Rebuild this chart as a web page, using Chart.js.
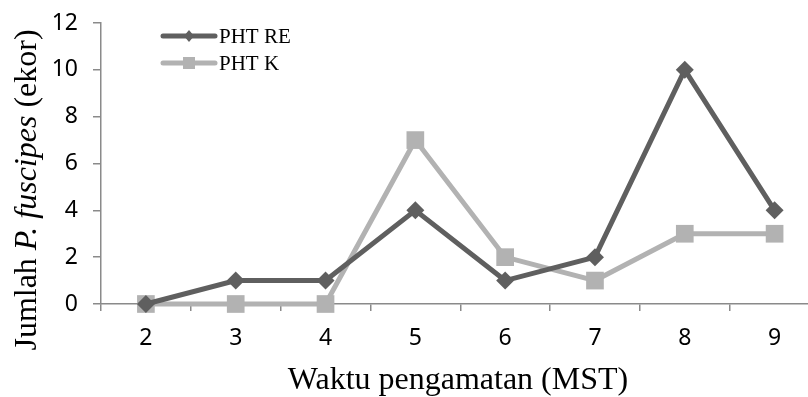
<!DOCTYPE html>
<html>
<head>
<meta charset="utf-8">
<script src="https://cdn.jsdelivr.net/npm/chart.js@4/dist/chart.umd.min.js"></script>
<style>
  html, body { margin: 0; padding: 0; background: #fff; overflow: hidden; }
  #wrap { width: 832px; height: 397px; }
</style>
</head>
<body>
<div id="wrap"><canvas id="chart" width="832" height="397"></canvas></div>
<script>
const categories = ["2", "3", "4", "5", "6", "7", "8", "9"];
const phtRE = [0, 1, 1, 4, 1, 2, 10, 4];
const phtK = [0, 0, 0, 7, 2, 1, 3, 3];
const yTicks = [0, 2, 4, 6, 8, 10, 12];

const darkGray = "#5f5f5f";
const lightGray = "#b2b2b2";
const axisGray = "#8a8a8a";
const tickFont = { family: "'Liberation Sans Narrow', 'Noto Sans'", size: 23 };

// draws the legend and both axis titles (the y title has an italic part)
const extras = {
  id: "extras",
  afterDraw(chart) {
    const ctx = chart.ctx;
    ctx.save();

    // legend
    const items = [
      { label: "PHT RE", color: darkGray, y: 36, marker: "diamond" },
      { label: "PHT K", color: lightGray, y: 63, marker: "square" },
    ];
    items.forEach((it) => {
      ctx.strokeStyle = it.color;
      ctx.lineWidth = 5;
      ctx.lineCap = "round";
      ctx.beginPath();
      ctx.moveTo(163, it.y);
      ctx.lineTo(215, it.y);
      ctx.stroke();
      ctx.fillStyle = it.color;
      if (it.marker === "diamond") {
        ctx.beginPath();
        ctx.moveTo(189, it.y - 6);
        ctx.lineTo(194, it.y);
        ctx.lineTo(189, it.y + 6);
        ctx.lineTo(184, it.y);
        ctx.closePath();
        ctx.fill();
      } else {
        ctx.fillRect(183, it.y - 6, 12, 12);
      }
      ctx.fillStyle = "#000";
      ctx.font = "21px 'Liberation Serif'";
      ctx.textBaseline = "alphabetic";
      ctx.textAlign = "left";
      ctx.fillText(it.label, 219, it.y + 7);
    });

    // x title
    ctx.fillStyle = "#000";
    ctx.font = "32px 'Liberation Serif'";
    ctx.textAlign = "center";
    ctx.fillText("Waktu pengamatan (MST)", 458, 389);

    // y title, rotated, with italic species name
    const parts = [
      { t: "Jumlah ", f: "32px 'Liberation Serif'" },
      { t: "P. fuscipes", f: "italic 32px 'Liberation Serif'" },
      { t: " (ekor)", f: "32px 'Liberation Serif'" },
    ];
    let total = 0;
    parts.forEach((p) => {
      ctx.font = p.f;
      p.w = ctx.measureText(p.t).width;
      total += p.w;
    });
    ctx.translate(36, 190);
    ctx.rotate(-Math.PI / 2);
    ctx.textAlign = "left";
    let x = -total / 2;
    parts.forEach((p) => {
      ctx.font = p.f;
      ctx.fillText(p.t, x, 0);
      x += p.w;
    });
    ctx.restore();
  },
};

new Chart(document.getElementById("chart"), {
  type: "line",
  data: {
    labels: categories,
    datasets: [
      {
        label: "PHT RE",
        data: phtRE,
        borderColor: darkGray,
        backgroundColor: darkGray,
        borderWidth: 5,
        pointStyle: "rectRot",
        pointRadius: 9,
        pointBorderWidth: 0,
        tension: 0,
        clip: false,
      },
      {
        label: "PHT K",
        data: phtK,
        borderColor: lightGray,
        backgroundColor: lightGray,
        borderWidth: 5,
        pointStyle: "rect",
        pointRadius: 12.5,
        pointBorderWidth: 0,
        tension: 0,
        clip: false,
      },
    ],
  },
  plugins: [extras],
  options: {
    responsive: false,
    animation: false,
    events: [],
    layout: { padding: { top: 23, right: 1, left: 0, bottom: 0 } },
    scales: {
      x: {
        offset: true,
        grid: {
          offset: true,
          drawOnChartArea: false,
          drawTicks: true,
          tickLength: 7,
          color: axisGray,
          lineWidth: 1.5,
        },
        border: { color: axisGray, width: 1.5 },
        ticks: {
          color: "#000",
          font: tickFont,
          padding: 14,
          maxRotation: 0,
        },
        afterFit(scale) {
          scale.height = 93;
          scale.paddingLeft = 0;
          scale.paddingRight = 0;
        },
      },
      y: {
        min: 0,
        max: 12,
        afterBuildTicks(scale) { scale.ticks = yTicks.map((v) => ({ value: v })); },
        grid: {
          drawOnChartArea: false,
          drawTicks: true,
          tickLength: 8,
          color: axisGray,
          lineWidth: 1.5,
        },
        border: { color: axisGray, width: 1.5 },
        ticks: {
          color: "#000",
          font: tickFont,
          padding: 15,
        },
        afterFit(scale) {
          scale.width = 101;
          scale.paddingTop = 0;
          scale.paddingBottom = 0;
        },
      },
    },
    plugins: {
      legend: { display: false },
      tooltip: { enabled: false },
      title: { display: false },
    },
  },
});
</script>
</body>
</html>
